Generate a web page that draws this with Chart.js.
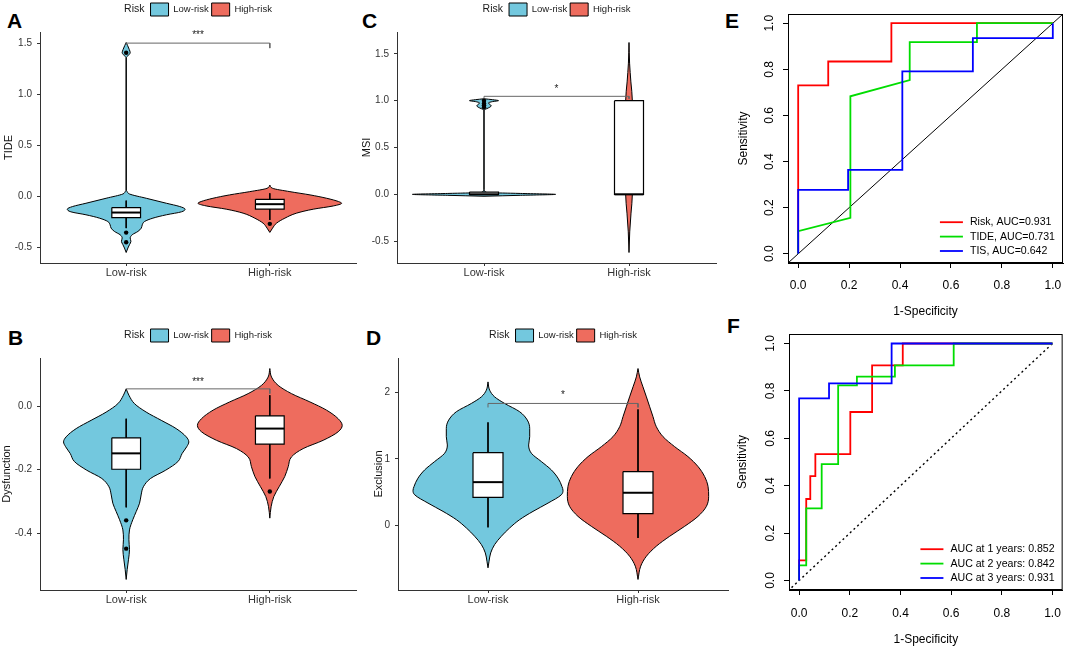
<!DOCTYPE html>
<html>
<head>
<meta charset="utf-8">
<script src="https://cdn.jsdelivr.net/npm/chart.js@4.4.1/dist/chart.umd.min.js"></script>
<style>
  body { margin: 0; width: 1072px; height: 648px; background: #fff; position: relative; overflow: hidden; }
  canvas { position: absolute; }
  .tag { position: absolute; font: bold 21px/21px "Liberation Sans", Arial, sans-serif; color: #000; }
</style>
</head>
<body>
<div class="tag" style="left:7px;top:10px">A</div>
<div class="tag" style="left:8px;top:327px">B</div>
<div class="tag" style="left:362px;top:10px">C</div>
<div class="tag" style="left:366px;top:327px">D</div>
<div class="tag" style="left:725px;top:10px">E</div>
<div class="tag" style="left:727px;top:315px">F</div>

<canvas id="cA" width="360" height="300" style="left:0;top:0"></canvas>
<canvas id="cC" width="360" height="300" style="left:360px;top:0"></canvas>
<canvas id="cB" width="360" height="320" style="left:0;top:310px"></canvas>
<canvas id="cD" width="370" height="320" style="left:360px;top:310px"></canvas>
<canvas id="cE" width="352" height="320" style="left:720px;top:0"></canvas>
<canvas id="cF" width="352" height="328" style="left:720px;top:320px"></canvas>

<script>
const FONT = '"Liberation Sans", Arial, sans-serif';

/* groups */
const riskGroups = ['Low-risk', 'High-risk'];
const riskFills = ['#73C8DE', '#EE6C5E'];

/* A: TIDE  (violin outline: value, half width) */
const tideLowVal  = [1.51, 1.48, 1.44, 1.41, 1.38, 1.36, 0.06, 0.047, 0.024, -0.018, -0.067, -0.099, -0.125, -0.151, -0.18, -0.213, -0.246, -0.278, -0.311, -0.343, -0.376, -0.408, -0.441, -0.473, -0.506, -0.55];
const tideLowHalf = [0, 0.01, 0.022, 0.028, 0.012, 0.001, 0.001, 0.007, 0.023, 0.14, 0.28, 0.373, 0.41, 0.385, 0.28, 0.186, 0.128, 0.112, 0.105, 0.082, 0.042, 0.028, 0.033, 0.023, 0.012, 0];
const tideHighVal  = [0.112, 0.08, 0.047, 0.015, -0.018, -0.05, -0.067, -0.093, -0.125, -0.164, -0.213, -0.262, -0.311, -0.353];
const tideHighHalf = [0, 0.019, 0.14, 0.28, 0.396, 0.478, 0.5, 0.443, 0.303, 0.186, 0.105, 0.047, 0.019, 0];
// box: q1, median, q3, lower whisker, upper whisker
const tideBoxLow  = [-0.207, -0.158, -0.109, -0.311, -0.041];
const tideBoxHigh = [-0.125, -0.076, -0.028, -0.231, 0.031];
const tideOutLow  = [1.41, -0.355, -0.45];
const tideOutHigh = [-0.269];
const tideBracket = [1.49, 1.504, 1.455];
const tideTicks = [-0.5, 0, 0.5, 1, 1.5];
const tideTickLabels = ['-0.5', '0.0', '0.5', '1.0', '1.5'];

/* B: Dysfunction */
const dysLowVal  = [0.054, 0.034, 0.0074, -0.019, -0.045, -0.071, -0.097, -0.113, -0.128, -0.149, -0.175, -0.202, -0.228, -0.254, -0.28, -0.306, -0.332, -0.358, -0.39, -0.421, -0.452, -0.484, -0.515, -0.546];
const dysLowHalf = [0, 0.019, 0.058, 0.139, 0.244, 0.348, 0.418, 0.436, 0.422, 0.39, 0.36, 0.275, 0.17, 0.12, 0.104, 0.093, 0.07, 0.046, 0.023, 0.019, 0.023, 0.016, 0.007, 0];
const dysHighVal  = [0.118, 0.091, 0.065, 0.039, 0.013, -0.013, -0.04, -0.061, -0.081, -0.108, -0.134, -0.16, -0.191, -0.222, -0.254, -0.285, -0.317, -0.353];
const dysHighHalf = [0, 0.012, 0.058, 0.151, 0.279, 0.395, 0.476, 0.504, 0.476, 0.371, 0.232, 0.151, 0.128, 0.104, 0.065, 0.028, 0.009, 0];
const dysBoxLow  = [-0.199, -0.149, -0.1, -0.319, -0.04];
const dysBoxHigh = [-0.12, -0.071, -0.031, -0.228, 0.034];
const dysOutLow  = [-0.36, -0.449];
const dysOutHigh = [-0.269];
const dysBracket = [0.053, 0.054, 0.039];
const dysTicks = [-0.4, -0.2, 0];
const dysTickLabels = ['-0.4', '-0.2', '0.0'];

/* C: MSI */
const msiLowVal  = [1.02, 1.01, 1.0, 0.99, 0.975, 0.96, 0.945, 0.93, 0.915, 0.9, 0.05, 0.03, 0.02, 0.01, 0, -0.01, -0.02];
const msiLowHalf = [0, 0.06, 0.1, 0.06, 0.03, 0.04, 0.05, 0.04, 0.02, 0.001, 0.001, 0.008, 0.02, 0.25, 0.494, 0.25, 0];
const msiHighVal  = [1.62, 1.4, 1.2, 1.0, 0.8, 0.5, 0.2, 0, -0.2, -0.4, -0.62];
const msiHighHalf = [0, 0.004, 0.013, 0.023, 0.012, 0.003, 0.012, 0.023, 0.014, 0.005, 0];
const msiBoxLow  = [0, 0, 0.025, 0, 0.025];
const msiBoxHigh = [0, 0, 1.0, 0, 1.0];
const msiOutLow  = [1.0, 0.97, 0.95, 0.93];
const msiOutHigh = [];
const msiBracket = [1.0, 1.046, 1.02];
const msiTicks = [-0.5, 0, 0.5, 1, 1.5];
const msiTickLabels = ['-0.5', '0.0', '0.5', '1.0', '1.5'];

/* D: Exclusion */
const excLowVal  = [2.154, 2.03, 1.93, 1.831, 1.707, 1.582, 1.458, 1.333, 1.209, 1.085, 0.96, 0.836, 0.711, 0.587, 0.527, 0.463, 0.338, 0.214, 0.09, -0.035, -0.159, -0.284, -0.408, -0.532, -0.632];
const excLowHalf = [0, 0.011, 0.044, 0.111, 0.211, 0.262, 0.278, 0.278, 0.271, 0.289, 0.356, 0.422, 0.467, 0.493, 0.5, 0.489, 0.4, 0.3, 0.211, 0.144, 0.089, 0.044, 0.018, 0.007, 0];
const excHighVal  = [2.354, 2.229, 2.08, 1.93, 1.781, 1.632, 1.483, 1.333, 1.184, 1.035, 0.886, 0.736, 0.587, 0.438, 0.289, 0.139, -0.01, -0.159, -0.308, -0.458, -0.607, -0.806];
const excHighHalf = [0, 0.011, 0.033, 0.056, 0.078, 0.1, 0.122, 0.167, 0.244, 0.333, 0.4, 0.444, 0.467, 0.471, 0.456, 0.4, 0.311, 0.211, 0.122, 0.056, 0.018, 0];
const excBoxLow  = [0.423, 0.652, 1.094, -0.025, 1.547];
const excBoxHigh = [0.179, 0.493, 0.811, -0.184, 1.741];
const excBracket = [1.771, 1.831, 1.771];
const excTicks = [0, 1, 2];
const excTickLabels = ['0', '1', '2'];

/* E: ROC of Risk / TIDE / TIS */
const rocE = ['Risk, AUC=0.931', 'TIDE, AUC=0.731', 'TIS, AUC=0.642'];
const riskFpr = [0, 0, 0.118, 0.118, 0.366, 0.366, 1];
const riskTpr = [0, 0.73, 0.73, 0.834, 0.834, 1, 1];
const tideFpr = [0, 0, 0.205, 0.205, 0.438, 0.438, 0.702, 0.702, 1];
const tideTpr = [0, 0.098, 0.156, 0.683, 0.753, 0.918, 0.918, 1, 1];
const tisFpr = [0, 0, 0.196, 0.196, 0.409, 0.409, 0.686, 0.686, 1, 1];
const tisTpr = [0, 0.277, 0.277, 0.364, 0.364, 0.791, 0.791, 0.935, 0.935, 1];

/* F: time-dependent ROC */
const rocF = ['AUC at 1 years: 0.852', 'AUC at 2 years: 0.842', 'AUC at 3 years: 0.931'];
const y1Fpr = [0, 0, 0.028, 0.028, 0.044, 0.044, 0.064, 0.064, 0.202, 0.202, 0.288, 0.288, 0.409, 0.409, 1];
const y1Tpr = [0, 0.085, 0.085, 0.344, 0.344, 0.44, 0.44, 0.533, 0.533, 0.711, 0.711, 0.908, 0.908, 1, 1];
const y2Fpr = [0, 0, 0.028, 0.028, 0.089, 0.089, 0.154, 0.154, 0.228, 0.228, 0.378, 0.378, 0.61, 0.61, 1];
const y2Tpr = [0, 0.064, 0.064, 0.304, 0.304, 0.491, 0.491, 0.823, 0.823, 0.86, 0.86, 0.908, 0.908, 1, 1];
const y3Fpr = [0, 0, 0.118, 0.118, 0.365, 0.365, 1];
const y3Tpr = [0, 0.768, 0.768, 0.832, 0.832, 1, 1];

const rocColors = ['#FF0000', '#00DD00', '#0000FF'];
const rocTicks = [0, 0.2, 0.4, 0.6, 0.8, 1];
const rocTickLabels = ['0.0', '0.2', '0.4', '0.6', '0.8', '1.0'];

/* ---------- plugins ---------- */
// "Risk" title left of legend, legend placed above the panel
const riskLegend = {
  id: 'riskLegend',
  afterLayout(chart, args, opts) {
    const lg = chart.legend;
    const pad = lg.options.labels.padding;
    const dy = (chart.chartArea.top - opts.gap - pad) - lg.top;
    lg.top += dy; lg.bottom += dy;
    chart.ctx.save();
    chart.ctx.font = '10.5px ' + FONT;
    const w = chart.ctx.measureText(opts.title).width + opts.titleGap;
    chart.ctx.restore();
    lg.left += w / 2; lg.right += w / 2;
  },
  afterDraw(chart, args, opts) {
    const lg = chart.legend, ctx = chart.ctx;
    const pad = lg.options.labels.padding;
    const x0 = (lg.left + pad + lg.right - lg.lineWidths[0]) / 2;
    ctx.save();
    ctx.font = '10.5px ' + FONT;
    ctx.fillStyle = '#1a1a1a';
    ctx.textAlign = 'right';
    ctx.textBaseline = 'middle';
    ctx.fillText(opts.title, x0 - opts.titleGap, lg.top + pad + 6.5);
    ctx.restore();
  }
};

const sigText = {
  id: 'sigText',
  afterDatasetsDraw(chart, args, opts) {
    const {ctx, scales: {x, y}} = chart;
    ctx.save();
    ctx.font = '10px ' + FONT;
    ctx.fillStyle = '#222';
    ctx.textAlign = 'center';
    ctx.textBaseline = 'middle';
    ctx.fillText(opts.text, x.getPixelForValue(1.5), y.getPixelForValue(opts.y));
    ctx.restore();
  }
};

// box, rotated y labels and legend of the base-R style ROC plots
const rocDecor = {
  id: 'rocDecor',
  afterDraw(chart, args, opts) {
    const {ctx, chartArea: a, scales: {y}} = chart;
    ctx.save();
    ctx.strokeStyle = '#000';
    ctx.lineWidth = 1;
    ctx.strokeRect(a.left + 0.5, a.top + 0.5, a.right - a.left - 1, a.bottom - a.top - 1);
    ctx.fillStyle = '#000';
    ctx.font = '12px ' + FONT;
    ctx.textAlign = 'center';
    ctx.textBaseline = 'middle';
    rocTicks.forEach((v, i) => {
      ctx.save();
      ctx.translate(a.left - 18.5, y.getPixelForValue(v));
      ctx.rotate(-Math.PI / 2);
      ctx.fillText(rocTickLabels[i], 0, 0);
      ctx.restore();
    });
    ctx.font = '10.6px ' + FONT;
    ctx.textAlign = 'left';
    const tw = Math.max(...opts.labels.map(t => ctx.measureText(t).width));
    const tx = a.right - 8 - tw;
    const n = opts.labels.length;
    opts.labels.forEach((t, i) => {
      const yy = a.bottom - 12 - (n - 1 - i) * 14.4;
      ctx.strokeStyle = rocColors[i];
      ctx.lineWidth = 1.8;
      ctx.beginPath();
      ctx.moveTo(tx - 30, yy);
      ctx.lineTo(tx - 7, yy);
      ctx.stroke();
      ctx.fillStyle = '#000';
      ctx.fillText(t, tx, yy);
    });
    ctx.restore();
  }
};

/* ---------- violin panels ---------- */
function violinSets(pos, fill, label, vals, half, box, outs) {
  const bw = 0.1;
  const [q1, med, q3, lo, hi] = box;
  const line = {showLine: true, pointRadius: 0, borderColor: '#000', borderWidth: 1, fill: false};
  return [
    {...line, label, data: vals.map((v, i) => ({x: pos + half[i], y: v})), fill: '+1',
      backgroundColor: fill, cubicInterpolationMode: 'monotone', order: 6},
    {...line, data: vals.map((v, i) => ({x: pos - half[i], y: v})), cubicInterpolationMode: 'monotone', order: 5},
    {...line, data: [{x: pos + bw, y: q3}, {x: pos + bw, y: q1}], fill: {value: pos - bw},
      backgroundColor: '#fff', borderColor: 'rgba(0,0,0,0)', order: 4},
    {...line, data: [{x: pos - bw, y: q3}, {x: pos + bw, y: q3}, {x: pos + bw, y: q1}, {x: pos - bw, y: q1}, {x: pos - bw, y: q3}],
      borderWidth: 1.2, order: 3},
    {...line, data: [{x: pos - bw, y: med}, {x: pos + bw, y: med}], borderWidth: 2, order: 3},
    {...line, data: [{x: pos, y: hi}, {x: pos, y: q3}], order: 3},
    {...line, data: [{x: pos, y: q1}, {x: pos, y: lo}], order: 3},
    {data: outs.map(v => ({x: pos, y: v})), showLine: false, pointRadius: 2.2,
      pointBackgroundColor: '#000', pointBorderWidth: 0, order: 1}
  ];
}

function violinChart(id, p) {
  const ds = [
    ...violinSets(1, riskFills[0], riskGroups[0], p.lowVal, p.lowHalf, p.boxLow, p.outLow),
    ...violinSets(2, riskFills[1], riskGroups[1], p.highVal, p.highHalf, p.boxHigh, p.outHigh),
    {data: [{x: 1, y: p.bracket[0]}, {x: 1, y: p.bracket[1]}, {x: 2, y: p.bracket[1]}, {x: 2, y: p.bracket[2]}],
      showLine: true, pointRadius: 0, borderColor: '#666', borderWidth: 1, fill: false, order: 2}
  ];
  // ggplot style range: data range plus 5 %
  const all = p.lowVal.concat(p.highVal);
  const lo = Math.min(...all), hi = Math.max(...all), r = hi - lo;
  const tickFont = {family: FONT, size: 10};
  new Chart(document.getElementById(id), {
    type: 'scatter',
    data: {datasets: ds},
    options: {
      responsive: false,
      animation: false,
      events: [],
      indexAxis: 'y',
      layout: {padding: p.pad},
      plugins: {
        legend: {
          position: 'top', fullSize: false,
          labels: {boxWidth: 18, boxHeight: 13, padding: 3, color: '#1a1a1a',
            font: {family: FONT, size: 9.5}, filter: item => riskGroups.includes(item.text)}
        },
        tooltip: {enabled: false},
        riskLegend: {title: 'Risk', gap: 29, titleGap: 6},
        sigText: {text: p.stars, y: p.starY}
      },
      scales: {
        x: {
          type: 'linear', position: 'bottom', min: 0.4, max: 2.6,
          afterBuildTicks: s => { s.ticks = riskGroups.map((g, i) => ({value: i + 1})); },
          afterFit: s => { s.height = 30; },
          ticks: {callback: (v, i) => riskGroups[i], autoSkip: false, maxRotation: 0, padding: 0,
            color: '#333', font: {family: FONT, size: 11}},
          grid: {display: true, drawOnChartArea: false, drawTicks: true, tickLength: 3, color: '#333'},
          border: {display: true, color: '#333', width: 1}
        },
        y: {
          type: 'linear', position: 'left', min: lo - 0.05 * r, max: hi + 0.05 * r,
          afterBuildTicks: s => { s.ticks = p.ticks.map(v => ({value: v})); },
          afterFit: s => { s.width = p.axisW; },
          ticks: {callback: (v, i) => p.tickLabels[i], autoSkip: false, padding: 5, color: '#333', font: tickFont},
          grid: {display: true, drawOnChartArea: false, drawTicks: true, tickLength: 3, color: '#333'},
          border: {display: true, color: '#333', width: 1},
          title: {display: true, text: p.title, color: '#111', padding: {top: p.titlePad, bottom: 0},
            font: {family: FONT, size: 11}}
        }
      }
    },
    plugins: [riskLegend, sigText]
  });
}

violinChart('cA', {
  lowVal: tideLowVal, lowHalf: tideLowHalf, highVal: tideHighVal, highHalf: tideHighHalf,
  boxLow: tideBoxLow, boxHigh: tideBoxHigh, outLow: tideOutLow, outHigh: tideOutHigh,
  bracket: tideBracket, stars: '***', starY: 1.58,
  ticks: tideTicks, tickLabels: tideTickLabels, title: 'TIDE',
  pad: {top: 6, left: 0, right: 4, bottom: 7}, axisW: 40, titlePad: 2
});
violinChart('cB', {
  lowVal: dysLowVal, lowHalf: dysLowHalf, highVal: dysHighVal, highHalf: dysHighHalf,
  boxLow: dysBoxLow, boxHigh: dysBoxHigh, outLow: dysOutLow, outHigh: dysOutHigh,
  bracket: dysBracket, stars: '***', starY: 0.075,
  ticks: dysTicks, tickLabels: dysTickLabels, title: 'Dysfunction',
  pad: {top: 22, left: 0, right: 4, bottom: 10}, axisW: 40, titlePad: 0.5
});
violinChart('cC', {
  lowVal: msiLowVal, lowHalf: msiLowHalf, highVal: msiHighVal, highHalf: msiHighHalf,
  boxLow: msiBoxLow, boxHigh: msiBoxHigh, outLow: msiOutLow, outHigh: msiOutHigh,
  bracket: msiBracket, stars: '*', starY: 1.124,
  ticks: msiTicks, tickLabels: msiTickLabels, title: 'MSI',
  pad: {top: 6, left: 0, right: 4, bottom: 7}, axisW: 37, titlePad: 0
});
violinChart('cD', {
  lowVal: excLowVal, lowHalf: excLowHalf, highVal: excHighVal, highHalf: excHighHalf,
  boxLow: excBoxLow, boxHigh: excBoxHigh, outLow: [], outHigh: [],
  bracket: excBracket, stars: '*', starY: 1.955,
  ticks: excTicks, tickLabels: excTickLabels, title: 'Exclusion',
  pad: {top: 22, left: 0, right: 2, bottom: 10}, axisW: 38, titlePad: 12
});

/* ---------- ROC panels ---------- */
function rocChart(id, curves, labels, dashed, p) {
  const pts = (xs, ys) => xs.map((x, i) => ({x, y: ys[i]}));
  const ds = curves.map((c, i) => ({
    data: pts(c[0], c[1]), showLine: true, pointRadius: 0, borderColor: rocColors[i],
    borderWidth: 1.8, fill: false, order: 3 - i
  }));
  ds.push({
    data: [{x: p.diag[0], y: p.diag[0]}, {x: p.diag[1], y: p.diag[1]}], showLine: true, pointRadius: 0,
    borderColor: '#000', borderWidth: dashed ? 1.4 : 1, borderDash: dashed ? [2, 3] : [], fill: false, order: 5
  });
  const axisFont = {family: FONT, size: 12};
  new Chart(document.getElementById(id), {
    type: 'scatter',
    data: {datasets: ds},
    options: {
      responsive: false,
      animation: false,
      events: [],
      layout: {padding: p.pad},
      plugins: {legend: {display: false}, tooltip: {enabled: false}, rocDecor: {labels}},
      scales: {
        x: {
          type: 'linear', min: -0.04, max: 1.04,
          afterBuildTicks: s => { s.ticks = rocTicks.map(v => ({value: v})); },
          afterFit: s => { s.height = p.xH; },
          ticks: {callback: (v, i) => rocTickLabels[i], autoSkip: false, maxRotation: 0, padding: p.tickPad,
            color: '#000', font: axisFont},
          grid: {display: true, drawOnChartArea: false, drawTicks: true, tickLength: 5, color: '#000'},
          border: {display: true, color: '#000'},
          title: {display: true, text: '1-Specificity', color: '#000', padding: {top: 0, bottom: 0}, font: axisFont}
        },
        y: {
          type: 'linear', min: -0.04, max: 1.04,
          afterBuildTicks: s => { s.ticks = rocTicks.map(v => ({value: v})); },
          afterFit: s => { s.width = p.yW; },
          ticks: {display: false},
          grid: {display: true, drawOnChartArea: false, drawTicks: true, tickLength: 5, color: '#000'},
          border: {display: true, color: '#000'},
          title: {display: true, text: 'Sensitivity', color: '#000', padding: {top: p.titlePad, bottom: 0}, font: axisFont}
        }
      }
    },
    plugins: [rocDecor]
  });
}

rocChart('cE', [[riskFpr, riskTpr], [tideFpr, tideTpr], [tisFpr, tisTpr]], rocE, false,
  {pad: {top: 14, left: 0, right: 9, bottom: 1}, xH: 56, yW: 68, tickPad: 10, titlePad: 16, diag: [-0.04, 1.04]});
rocChart('cF', [[y1Fpr, y1Tpr], [y2Fpr, y2Tpr], [y3Fpr, y3Tpr]], rocF, true,
  {pad: {top: 14, left: 0, right: 4, bottom: 1}, xH: 57, yW: 69, tickPad: 11, titlePad: 15.5, diag: [-0.03, 1.0]});
</script>
</body>
</html>
